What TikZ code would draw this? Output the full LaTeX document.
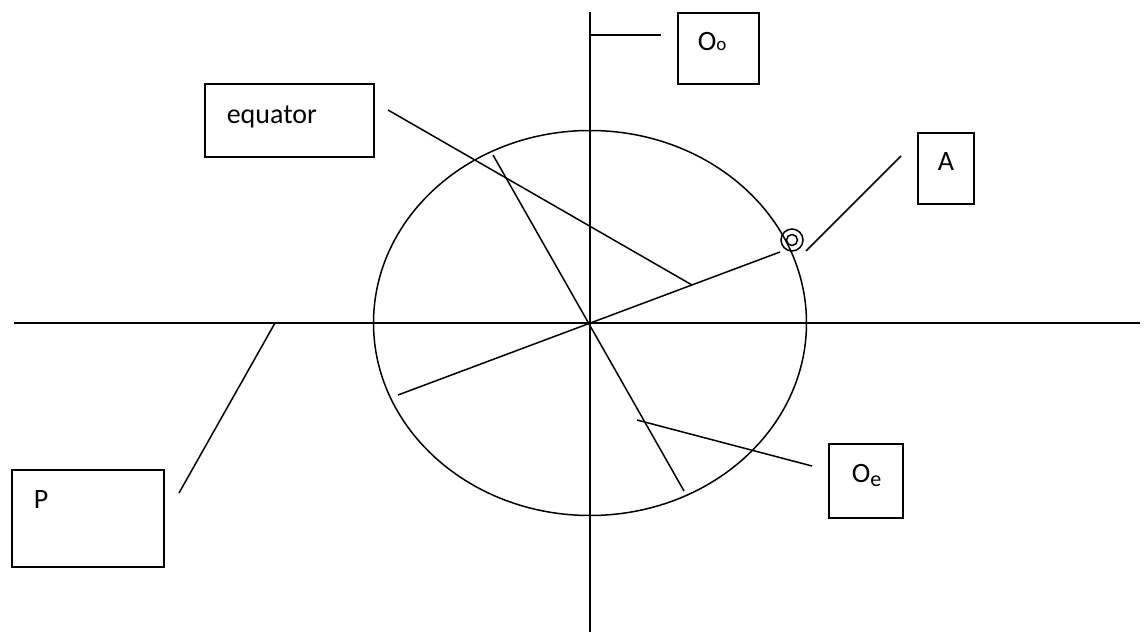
\documentclass[tikz,border=0pt]{standalone}
\usepackage{fontspec}
\setmainfont{Carlito}
\begin{document}
\begin{tikzpicture}[x=1pt,y=-1pt,line width=1.5pt,
  box/.style={draw,line width=1.5pt,inner sep=0pt,anchor=north west},
  lbl/.style={inner sep=0pt,anchor=base west,font=\fontsize{28}{32}\selectfont},
  ln/.style={line width=1.5pt}]
\useasboundingbox (0,0) rectangle (1146,632);
% axes
\coordinate (vtop) at (590,12);
\coordinate (vbot) at (590,632);
\coordinate (hl) at (14,323);
\coordinate (hr) at (1140,323);
\coordinate (C) at (590,323);
\draw[ln] (vtop) -- (vbot);
\draw[ln] (hl) -- (hr);
% ellipse
\draw[ln] (C) ellipse [x radius=216.5, y radius=192.5];
% diameters
\coordinate (t1) at (493,155);
\coordinate (t2) at (684,491);
\draw[ln] (t1) -- (t2);
\coordinate (a1) at (398,395);
\coordinate (a2) at (780,252);
\draw[ln] (a1) -- (a2);
% point A marker
\node (Amark) [draw,circle,line width=1.5pt,minimum size=22pt,inner sep=0pt] at (792,240) {};
\node (Amark2) [draw,circle,line width=1.5pt,minimum size=11pt,inner sep=0pt] at (792,240) {};
% boxes
\node (Oobox) [box,minimum width=81pt,minimum height=71pt] at (677,12) {};
\node (Abox) [box,minimum width=56pt,minimum height=71pt] at (917,132) {};
\node (eqbox) [box,minimum width=169pt,minimum height=73pt] at (204,83) {};
\node (Oebox) [box,minimum width=74pt,minimum height=74pt] at (828,443) {};
\node (Pbox) [box,minimum width=152pt,minimum height=97pt] at (11,469) {};
% labels
\node (Ootext) [lbl] at (697,50) {O{\fontsize{19}{19}\selectfont o}};
\node (Atext) [lbl] at (937,170) {A};
\node (eqtext) [lbl] at (226,123) {equator};
\node (Oetext) [lbl] at (851,482) {O\raisebox{-4pt}{\fontsize{22}{22}\selectfont e}};
\node (Ptext) [lbl] at (33,508) {P};
% leaders
\coordinate (Oo1) at (590,35);
\coordinate (Oo2) at (661,35);
\draw[ln] (Oo1) -- (Oo2);
\coordinate (A1) at (901,156);
\coordinate (A2) at (806,251);
\draw[ln] (A1) -- (A2);
\coordinate (e1) at (388,110);
\coordinate (e2) at (692,285);
\draw[ln] (e1) -- (e2);
\coordinate (Oe1) at (637,420);
\coordinate (Oe2) at (812,466);
\draw[ln] (Oe1) -- (Oe2);
\coordinate (P1) at (179,493);
\coordinate (P2) at (275,323);
\draw[ln] (P1) -- (P2);
\end{tikzpicture}
\end{document}
